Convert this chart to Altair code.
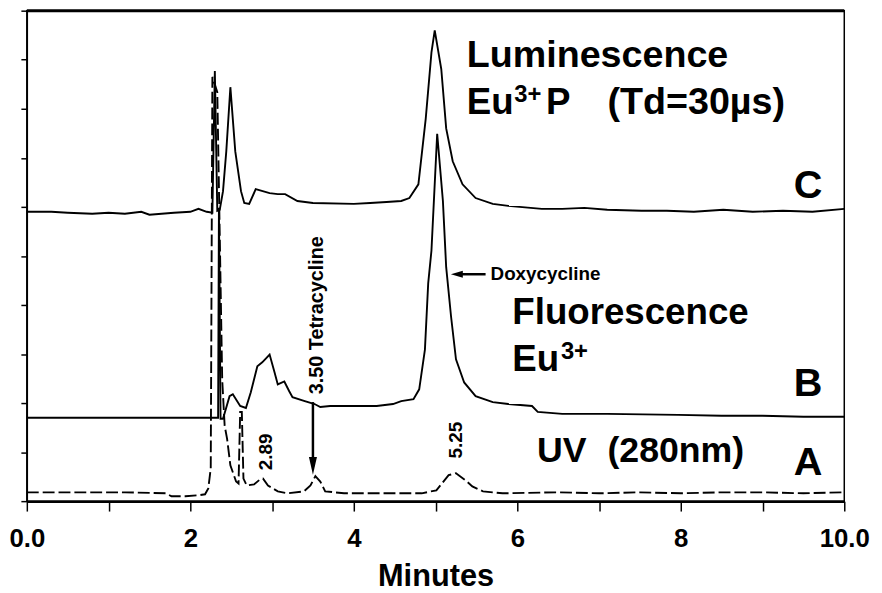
import altair as alt
import pandas as pd

# ---- data ----
# retention time in minutes, detector signal in % of full scale (plot height)
c_time = [0.0, 0.3, 0.5, 0.8, 1.0, 1.2, 1.4, 1.5, 1.8, 2.0, 2.1, 2.2, 2.27, 2.30, 2.33,
          2.36, 2.40, 2.44, 2.49, 2.55, 2.62, 2.66, 2.72, 2.80, 2.97, 3.07, 3.16, 3.31, 3.5, 4.0,
          4.2, 4.4, 4.58, 4.68, 4.79, 4.88, 4.95, 4.99, 5.07, 5.13, 5.21, 5.33, 5.49, 5.70, 5.89,
          6.30, 6.55, 6.82, 7.10, 7.52, 7.83, 8.16, 8.52, 8.88, 9.25, 9.61, 10.0]
c_signal = [59.0, 59.0, 58.8, 58.6, 58.8, 58.6, 59.0, 58.4, 58.8, 59.0, 59.6, 59.0, 58.8, 87.7, 59.2,
            59.4, 63.2, 71.3, 84.4, 71.3, 63.2, 60.8, 60.6, 63.6, 62.8, 62.6, 62.6, 61.2, 60.8, 60.6,
            60.8, 61.0, 61.2, 61.8, 64.6, 78.0, 91.5, 96.0, 88.1, 76.0, 69.3, 64.6, 61.8, 60.6, 60.2,
            59.6, 59.6, 59.8, 59.4, 59.2, 59.2, 59.0, 59.4, 59.0, 59.2, 59.0, 59.6]

b_time = [0.0, 1.0, 2.0, 2.34, 2.35, 2.37, 2.40, 2.48, 2.52, 2.61, 2.68, 2.74, 2.82, 2.88, 2.97,
          3.03, 3.07, 3.15, 3.21, 3.25, 3.40, 3.52, 3.59, 3.71, 4.0, 4.28, 4.48, 4.58, 4.73, 4.80,
          4.87, 4.91, 4.95, 5.02, 5.09, 5.13, 5.19, 5.25, 5.35, 5.49, 5.70, 5.89, 6.18, 6.25, 6.55,
          7.10, 7.97, 8.5, 9.0, 9.5, 10.0]
b_signal = [17.0, 17.0, 17.0, 17.0, 59.8, 16.8, 16.8, 21.4, 21.8, 19.4, 19.0, 22.2, 27.5, 28.3, 29.9,
            26.3, 23.8, 24.4, 22.4, 21.2, 20.4, 19.8, 19.2, 19.4, 19.4, 19.4, 19.8, 20.4, 20.8, 22.8,
            30.9, 44.4, 51.1, 74.9, 61.2, 47.7, 37.6, 28.9, 24.2, 21.4, 20.2, 19.8, 19.4, 18.2, 17.8,
            17.8, 17.6, 17.4, 17.4, 17.2, 17.2]

a_time = [0.0, 0.6, 1.2, 1.7, 1.77, 1.94, 2.1, 2.18, 2.22, 2.25, 2.27, 2.33, 2.39, 2.42, 2.45,
          2.49, 2.56, 2.59, 2.61, 2.63, 2.65, 2.69, 2.78, 2.85, 2.89, 2.95, 3.07, 3.19, 3.39, 3.47,
          3.53, 3.59, 3.65, 3.88, 4.5, 4.83, 5.01, 5.16, 5.25, 5.37, 5.45, 5.58, 5.82, 6.5, 7.0,
          7.5, 8.0, 8.5, 9.0, 9.5, 10.0]
a_signal = [1.8, 1.8, 1.8, 1.6, 1.0, 1.0, 1.2, 1.4, 2.6, 6.7, 86.5, 83.4, 24.8, 15.4, 12.7,
            7.3, 4.0, 3.6, 18.2, 18.2, 4.6, 3.2, 3.4, 4.4, 4.6, 3.2, 2.0, 1.6, 2.0, 3.2,
            5.1, 4.0, 2.0, 1.6, 1.6, 1.6, 2.2, 5.3, 5.7, 4.2, 3.0, 2.0, 1.6, 1.8, 1.6,
            1.8, 1.6, 1.8, 1.8, 1.6, 1.8]

peak_times = [2.89, 3.50, 5.25]
peak_labels = ["2.89", "3.50 Tetracycline", "5.25"]

x_ticks = list(range(0, 11))
y_ticks = list(range(0, 101, 10))

FONT = "Liberation Sans"
W, H = 825, 495

xs = alt.Scale(domain=[0, 10], nice=False, zero=False)
ys = alt.Scale(domain=[0, 100], nice=False, zero=False)

x_axis = alt.Axis(
    values=x_ticks, title="Minutes",
    labelExpr="datum.value == 0 ? '0.0' : datum.value == 10 ? '10.0' : (datum.value % 2 == 0 ? datum.label : '')",
    labelFont=FONT, labelFontWeight="bold", labelFontSize=26, labelColor="black",
    labelPadding=15, labelOverlap=False, labelFlush=False, labelBound=False,
    tickSize=10, tickWidth=1.5, tickColor="black",
    domainColor="black", domainWidth=2.5, grid=False,
    titleFont="Liberation Sans Narrow, Liberation Sans", titleFontSize=31, titleFontWeight="bold",
    titleColor="black", titleY=85, titleBaseline="alphabetic",
)
y_axis = alt.Axis(
    values=y_ticks, labels=False, title=None, tickSize=6, tickWidth=1.5, tickColor="black",
    domainColor="black", domainWidth=1.5, grid=False,
)


def X(field="time:Q"):
    return alt.X(field, scale=xs, axis=x_axis)


def Y(field="signal:Q"):
    return alt.Y(field, scale=ys, axis=y_axis)


def trace(t, s, dash=None):
    df = pd.DataFrame({"time": t, "signal": s})
    kw = dict(color="black", strokeWidth=1.9, interpolate="linear")
    if dash:
        kw["strokeDash"] = dash
    return alt.Chart(df).mark_line(**kw).encode(x=X(), y=Y())


dummy = pd.DataFrame({"k": [0]})


def txt(s, x, y, size, **kw):
    return alt.Chart(dummy).mark_text(
        font=FONT, fontWeight="bold", fontSize=size, align="left",
        baseline="alphabetic", color="black", **kw
    ).encode(x=alt.value(x), y=alt.value(y), text=alt.value(s))


def peak_label(i, sig, size, dy=0):
    df = pd.DataFrame({"time": [peak_times[i]], "signal": [sig], "label": [peak_labels[i]]})
    return alt.Chart(df).mark_text(
        font=FONT, fontWeight="bold", fontSize=size, angle=270, align="left",
        baseline="middle", color="black", dy=dy
    ).encode(x=X(), y=Y(), text="label:N")


line_c = trace(c_time, c_signal)
line_b = trace(b_time, b_signal)
line_a = trace(a_time, a_signal, dash=[12, 4])

top_rule = alt.Chart(dummy).mark_rule(color="black", strokeWidth=3).encode(
    x=alt.value(0), x2=alt.value(W), y=alt.value(0)
)

# Tetracycline arrow
tet = pd.DataFrame({"time": [peak_times[1]], "signal": [20.2], "signal2": [8.7], "head": [7.2]})
tet_shaft = alt.Chart(tet).mark_rule(color="black", strokeWidth=2.5).encode(
    x=X(), y=Y(), y2="signal2:Q",
)
tet_head = alt.Chart(tet).mark_point(
    shape="M-0.45,-1L0.45,-1L0,1Z", filled=True, color="black", size=324, opacity=1
).encode(x=X(), y=Y("head:Q"))

# Doxycycline arrow (pointer to the peak)
dox_shaft = alt.Chart(dummy).mark_rule(color="black", strokeWidth=2.5).encode(
    x=alt.value(439), x2=alt.value(463), y=alt.value(266)
)
dox_head = alt.Chart(dummy).mark_point(
    shape="M1,-0.6L1,0.6L-1,0Z", filled=True, color="black", size=144, opacity=1
).encode(x=alt.value(434), y=alt.value(266))

texts = [
    txt("Luminescence", 444, 57, 38),
    txt("Eu", 444, 104, 37),
    txt("3+", 492, 92, 24),
    txt("P", 524, 104, 37),
    txt("(Td=30µs)", 586, 104, 38),
    txt("C", 774, 189, 40),
    txt("Doxycycline", 468, 272, 19),
    txt("Fluorescence", 490, 316, 37),
    txt("Eu", 490, 364, 37),
    txt("3+", 539, 352, 24),
    txt("B", 774, 389, 40),
    txt("UV", 515, 455, 36),
    txt("(280nm)", 586, 455, 36),
    txt("A", 774, 469, 40),
]

labels = [
    peak_label(0, 6.3, 19, dy=3),
    peak_label(1, 21.8, 20, dy=4),
    peak_label(2, 8.7, 19, dy=0),
]

chart = alt.layer(
    line_a, line_b, line_c, top_rule, tet_shaft, tet_head, dox_shaft, dox_head,
    *texts, *labels
).properties(
    width=W, height=H,
    autosize=alt.AutoSizeParams(type="none"),
    padding={"left": 19, "top": 0, "right": 30, "bottom": 90},
    background="white",
).configure_view(stroke="black", strokeWidth=1.5)

chart.save("out.html", embed_options={"renderer": "svg", "actions": False})
